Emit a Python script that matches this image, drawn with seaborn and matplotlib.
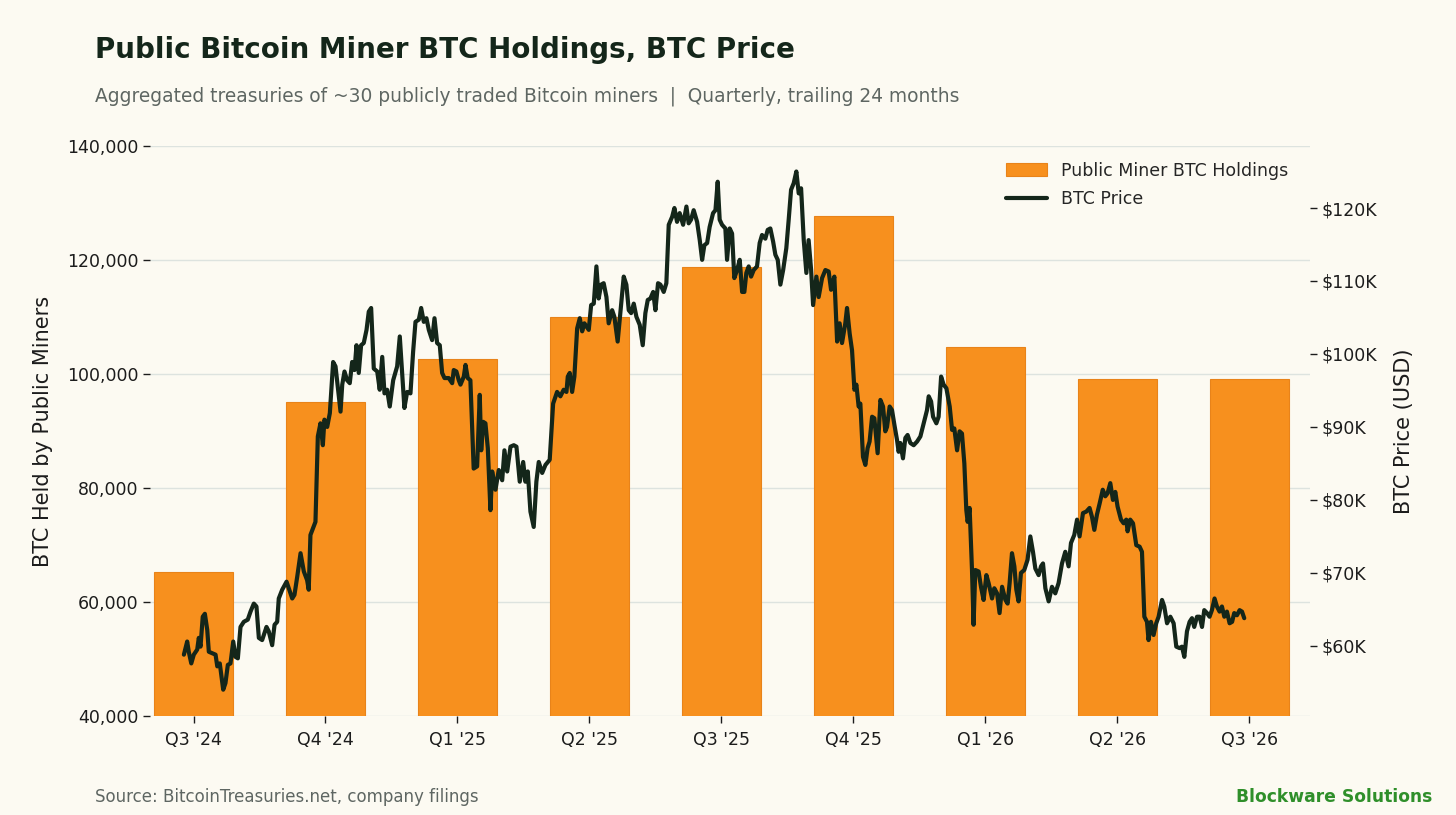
import numpy as np
import pandas as pd
import matplotlib
matplotlib.use("Agg")
import matplotlib.pyplot as plt
from matplotlib.patches import Patch
from matplotlib.lines import Line2D
from matplotlib.ticker import FuncFormatter
import seaborn as sns

# quarterly miner holdings (BTC)
quarters = ["Q3 '24", "Q4 '24", "Q1 '25", "Q2 '25", "Q3 '25", "Q4 '25", "Q1 '26", "Q2 '26", "Q3 '26"]
holdings = [65200, 95100, 102600, 110000, 118800, 127700, 104800, 99200, 99100]

# BTC price (thousand USD), position measured in quarters from the Q3 '24 tick
line_pos = [
    -0.073, -0.048, -0.036, -0.017, 0.002, 0.028, 0.040, 0.053, 0.070, 0.086, 0.104, 0.116, 0.142, 0.167,
    0.180, 0.199, 0.225, 0.242, 0.260, 0.280, 0.301, 0.318, 0.336, 0.356, 0.381, 0.411, 0.432, 0.457,
    0.477, 0.495, 0.520, 0.553, 0.570, 0.596, 0.614, 0.634, 0.646, 0.672, 0.705, 0.722, 0.748, 0.765,
    0.786, 0.811, 0.836, 0.861, 0.873, 0.886, 0.924, 0.942, 0.962, 0.980, 0.992, 1.013, 1.033, 1.058,
    1.076, 1.093, 1.114, 1.127, 1.144, 1.164, 1.184, 1.202, 1.220, 1.235, 1.252, 1.270, 1.290, 1.311,
    1.328, 1.346, 1.366, 1.392, 1.411, 1.430, 1.447, 1.467, 1.487, 1.513, 1.543, 1.563, 1.581, 1.598,
    1.619, 1.644, 1.664, 1.682, 1.707, 1.725, 1.745, 1.765, 1.783, 1.808, 1.826, 1.846, 1.866, 1.884,
    1.902, 1.934, 1.960, 1.972, 1.992, 2.010, 2.023, 2.048, 2.061, 2.078, 2.098, 2.123, 2.149, 2.169,
    2.180, 2.195, 2.212, 2.230, 2.250, 2.263, 2.288, 2.313, 2.339, 2.356, 2.377, 2.402, 2.427, 2.447,
    2.472, 2.498, 2.515, 2.533, 2.553, 2.578, 2.598, 2.616, 2.642, 2.667, 2.699, 2.725, 2.755, 2.780,
    2.805, 2.826, 2.836, 2.851, 2.869, 2.886, 2.907, 2.927, 2.945, 2.962, 2.995, 3.013, 3.033, 3.053,
    3.070, 3.089, 3.108, 3.129, 3.146, 3.172, 3.189, 3.214, 3.235, 3.260, 3.280, 3.298, 3.316, 3.336,
    3.356, 3.381, 3.404, 3.424, 3.442, 3.462, 3.483, 3.500, 3.520, 3.538, 3.563, 3.583, 3.601, 3.627,
    3.644, 3.664, 3.684, 3.710, 3.735, 3.752, 3.770, 3.790, 3.816, 3.836, 3.854, 3.871, 3.892, 3.911,
    3.937, 3.955, 3.972, 3.987, 4.005, 4.030, 4.043, 4.063, 4.081, 4.098, 4.119, 4.139, 4.157, 4.174,
    4.189, 4.207, 4.225, 4.245, 4.270, 4.290, 4.308, 4.333, 4.351, 4.371, 4.392, 4.409, 4.427, 4.447,
    4.468, 4.492, 4.510, 4.528, 4.548, 4.568, 4.586, 4.604, 4.624, 4.644, 4.661, 4.680, 4.695, 4.720,
    4.737, 4.763, 4.788, 4.813, 4.831, 4.856, 4.877, 4.896, 4.914, 4.939, 4.952, 4.972, 4.990, 5.008,
    5.023, 5.040, 5.053, 5.073, 5.091, 5.108, 5.123, 5.142, 5.159, 5.184, 5.205, 5.225, 5.242, 5.255,
    5.275, 5.293, 5.311, 5.331, 5.343, 5.356, 5.376, 5.394, 5.411, 5.432, 5.457, 5.483, 5.508, 5.533,
    5.558, 5.571, 5.589, 5.604, 5.629, 5.646, 5.665, 5.684, 5.705, 5.730, 5.748, 5.765, 5.786, 5.805,
    5.823, 5.841, 5.856, 5.866, 5.881, 5.899, 5.911, 5.924, 5.949, 5.967, 5.987, 6.008, 6.025, 6.051,
    6.068, 6.089, 6.108, 6.127, 6.152, 6.169, 6.184, 6.202, 6.220, 6.235, 6.252, 6.270, 6.295, 6.320,
    6.341, 6.361, 6.379, 6.404, 6.422, 6.437, 6.455, 6.480, 6.505, 6.530, 6.555, 6.581, 6.606, 6.631,
    6.649, 6.674, 6.695, 6.714, 6.740, 6.765, 6.790, 6.808, 6.826, 6.846, 6.866, 6.890, 6.909, 6.926,
    6.947, 6.967, 6.985, 7.002, 7.028, 7.048, 7.068, 7.078, 7.098, 7.119, 7.144, 7.169, 7.187, 7.205,
    7.225, 7.237, 7.255, 7.275, 7.295, 7.313, 7.339, 7.356, 7.377, 7.402, 7.427, 7.447, 7.472, 7.490,
    7.508, 7.528, 7.548, 7.566, 7.583, 7.604, 7.624, 7.642, 7.659, 7.680, 7.699, 7.717, 7.737, 7.755,
    7.775, 7.793, 7.811, 7.831, 7.851, 7.870, 7.886, 7.907, 7.927, 7.945, 7.962,
]
btc_price_k = [
    58.8, 60.6, 59.2, 57.6, 58.8, 59.5, 61.1, 59.9, 64.0, 64.4, 62.2, 59.2, 59.0, 58.8,
    57.2, 57.6, 54.0, 54.9, 57.4, 57.6, 60.6, 58.5, 58.3, 62.6, 63.3, 63.6, 64.7, 65.8,
    65.4, 61.1, 60.8, 62.6, 62.0, 60.1, 62.9, 63.3, 66.5, 67.7, 68.8, 67.9, 66.5, 67.0,
    69.5, 72.7, 70.2, 69.0, 67.7, 75.2, 77.0, 88.7, 90.5, 87.5, 91.0, 90.0, 91.9, 98.9,
    98.3, 95.5, 92.1, 95.8, 97.6, 96.4, 96.0, 98.9, 97.8, 101.2, 97.4, 101.2, 101.5, 103.3,
    105.8, 106.3, 98.0, 97.6, 95.1, 99.6, 94.6, 95.1, 92.8, 96.4, 98.3, 102.4, 97.4, 92.6,
    94.8, 94.6, 100.3, 104.4, 104.7, 106.3, 104.4, 104.9, 103.3, 101.9, 104.9, 101.5, 101.2, 97.4,
    96.7, 96.7, 96.0, 97.8, 97.6, 96.4, 95.8, 96.9, 98.5, 96.7, 96.4, 84.3, 84.6, 94.4,
    86.8, 90.7, 90.5, 87.1, 78.6, 83.9, 81.4, 84.1, 82.7, 86.8, 83.9, 87.3, 87.5, 87.3,
    82.5, 85.2, 82.5, 83.9, 78.4, 76.3, 82.5, 85.2, 83.7, 84.8, 85.5, 93.2, 94.8, 94.2,
    95.1, 94.8, 96.9, 97.4, 94.8, 96.9, 103.5, 104.9, 103.1, 104.2, 103.3, 106.7, 106.9, 112.0,
    107.6, 109.5, 109.7, 107.8, 104.2, 106.0, 105.1, 101.7, 105.8, 110.6, 109.5, 106.0, 105.6, 106.9,
    105.1, 104.0, 101.2, 105.6, 107.4, 107.6, 108.5, 106.0, 109.7, 109.5, 108.5, 109.7, 117.7, 118.8,
    120.0, 118.1, 119.3, 117.7, 120.2, 117.9, 118.4, 119.7, 118.1, 115.6, 112.9, 114.9, 115.2, 117.4,
    119.3, 119.7, 123.6, 118.4, 117.7, 117.2, 112.9, 117.2, 116.5, 110.4, 111.5, 112.9, 108.5, 108.5,
    111.1, 112.0, 110.6, 111.5, 112.0, 115.2, 116.3, 115.8, 117.0, 117.2, 115.4, 113.6, 112.9, 109.5,
    111.5, 114.5, 118.4, 122.5, 123.4, 125.0, 122.0, 122.7, 115.6, 111.1, 115.6, 111.5, 106.7, 110.6,
    107.8, 110.4, 111.5, 111.3, 108.8, 110.6, 101.7, 104.2, 101.5, 104.2, 106.3, 102.8, 100.5, 95.1,
    95.8, 92.8, 93.2, 85.9, 84.8, 87.1, 88.0, 91.4, 91.2, 86.4, 93.7, 92.8, 89.4, 90.0,
    92.8, 92.3, 90.3, 88.2, 86.6, 87.8, 85.7, 88.5, 88.9, 87.8, 87.5, 88.0, 88.7, 90.5,
    92.3, 94.2, 93.5, 91.4, 90.5, 91.4, 96.9, 95.8, 95.3, 92.8, 89.6, 89.8, 86.8, 89.4,
    89.1, 85.0, 78.6, 77.0, 78.9, 70.4, 62.9, 70.4, 70.2, 68.1, 66.3, 69.7, 68.6, 66.5,
    67.9, 67.2, 64.5, 68.1, 66.3, 65.8, 68.6, 72.7, 70.9, 67.7, 66.1, 70.0, 70.4, 71.8,
    75.0, 72.9, 70.6, 69.7, 70.9, 71.3, 67.9, 66.1, 68.1, 67.2, 68.6, 71.3, 72.9, 70.9,
    74.1, 75.2, 77.3, 75.0, 78.2, 78.4, 78.9, 77.7, 75.9, 78.0, 79.5, 81.4, 80.5, 80.9,
    82.3, 80.0, 81.1, 79.1, 77.3, 76.8, 77.3, 75.7, 77.3, 76.8, 73.8, 73.6, 72.9, 64.0,
    63.3, 60.8, 63.3, 61.5, 63.1, 64.0, 66.3, 65.4, 63.1, 64.0, 63.1, 59.9, 59.7, 59.9,
    58.5, 62.0, 63.3, 63.8, 62.6, 64.0, 64.0, 62.6, 64.9, 64.5, 64.0, 64.9, 66.5, 65.4,
    64.7, 65.4, 64.0, 64.7, 63.1, 63.3, 64.5, 64.2, 64.9, 64.7, 63.8,
]

BG = "#FCFAF2"
ORANGE = "#F7901E"
DARK = "#14261A"
GRAY = "#5E6662"
GRID = "#DDE3DF"
GREEN = "#2F8F2A"

sns.set_theme(style="white")
plt.rcParams["font.family"] = ["DejaVu Sans"]
plt.rcParams["axes.facecolor"] = BG
plt.rcParams["figure.facecolor"] = BG

fig = plt.figure(figsize=(14.56, 8.15), dpi=100)
ax = fig.add_axes([0.103, 0.1215, 0.7967, 0.6994])
ax.set_axisbelow(True)

sns.barplot(x=quarters, y=holdings, color=ORANGE, saturation=1, width=0.6,
            edgecolor="#E8831A", linewidth=0.8, ax=ax)
ax.set_ylim(40000, 140000)
ax.set_xlim(-0.33, 8.46)
ax.set_yticks(np.arange(40000, 140001, 20000))
ax.yaxis.set_major_formatter(FuncFormatter(lambda v, p: f"{v:,.0f}"))
ax.grid(axis="y", color=GRID, linewidth=1)
ax.grid(axis="x", visible=False)
ax.set_xlabel("")
ax.set_ylabel("BTC Held by Public Miners", fontsize=15, color="#1c1c1c", labelpad=10)
ax.tick_params(axis="both", labelsize=12.5, colors="#1c1c1c", length=5, width=1,
               left=True, bottom=True)
ax.tick_params(axis="x", pad=6)
for s in ax.spines.values():
    s.set_visible(False)

ax2 = ax.twinx()
sns.lineplot(x=line_pos, y=btc_price_k, color=DARK, linewidth=3.0, ax=ax2)
ax2.set_ylim(50.4, 128.5)
ax2.set_yticks(np.arange(60, 121, 10))
ax2.yaxis.set_major_formatter(FuncFormatter(lambda v, p: f"${v:.0f}K"))
ax2.set_ylabel("BTC Price (USD)", fontsize=15, color="#1c1c1c", labelpad=12)
ax2.tick_params(axis="y", labelsize=12.5, colors="#1c1c1c", length=5, width=1, right=True)
ax2.grid(False)
for s in ax2.spines.values():
    s.set_visible(False)
ax2.set_xlim(-0.33, 8.46)

handles = [Patch(facecolor=ORANGE, edgecolor="#E8831A", linewidth=0.8),
           Line2D([0], [0], color=DARK, linewidth=3.0)]
ax2.legend(handles, ["Public Miner BTC Holdings", "BTC Price"], loc="upper right",
           bbox_to_anchor=(0.995, 1.0), frameon=False, fontsize=12.5,
           handlelength=2.4, handletextpad=0.8, labelspacing=0.6)

fig.text(0.0652, 0.9387, "Public Bitcoin Miner BTC Holdings, BTC Price", fontsize=20,
         fontweight="bold", color=DARK, va="center", ha="left")
fig.text(0.0652, 0.8822,
         "Aggregated treasuries of ~30 publicly traded Bitcoin miners  |  Quarterly, trailing 24 months",
         fontsize=13.4, color=GRAY, va="center", ha="left")
fig.text(0.0652, 0.0221, "Source: BitcoinTreasuries.net, company filings", fontsize=12,
         color=GRAY, va="center", ha="left")
fig.text(0.9835, 0.0221, "Blockware Solutions", fontsize=12.3, fontweight="bold",
         color=GREEN, va="center", ha="right")

fig.savefig("out.png", dpi=100, facecolor=BG)
